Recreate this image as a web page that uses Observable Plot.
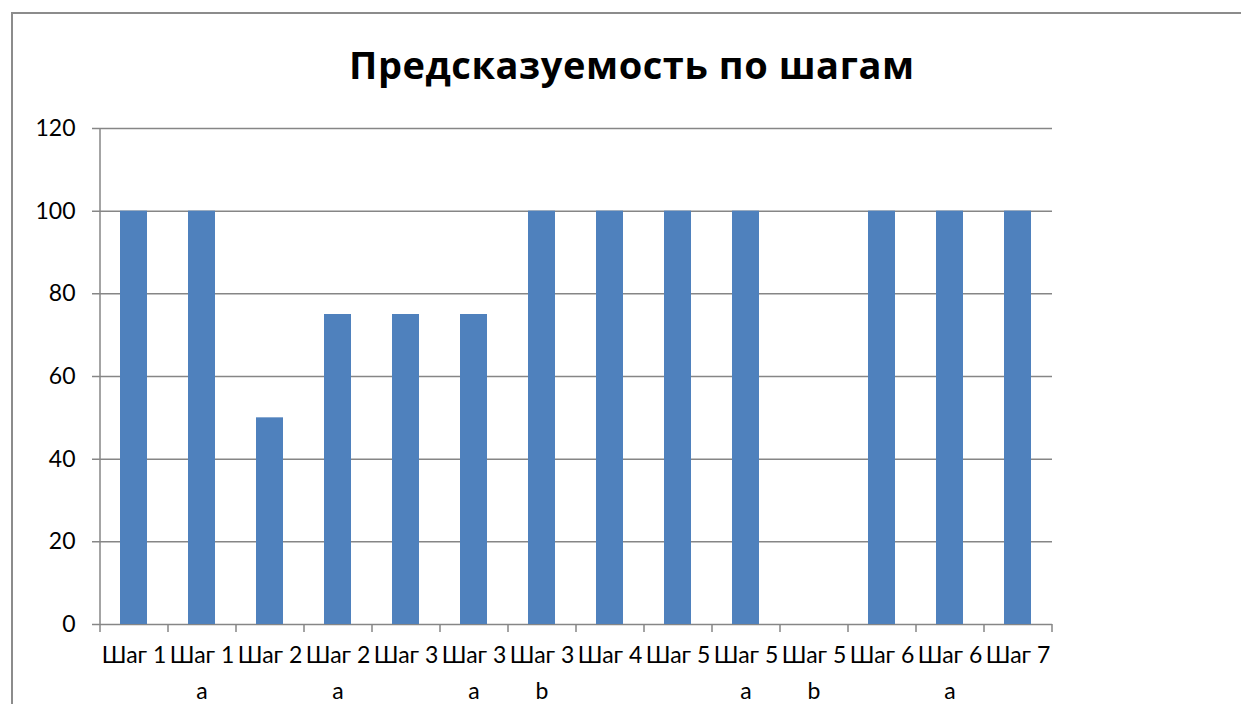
<!DOCTYPE html>
<html>
<head>
<meta charset="utf-8">
<script src="https://cdn.jsdelivr.net/npm/d3@7"></script>
<script src="https://cdn.jsdelivr.net/npm/@observablehq/plot@0.6"></script>
<style>
  html, body { margin: 0; padding: 0; background: #fff; }
  #wrap { position: relative; width: 1241px; height: 704px; overflow: hidden; }
  #frame { position: absolute; left: 11px; top: 12px; width: 1240px; height: 700px;
           border-left: 2px solid #8c8c8c; border-top: 2px solid #8c8c8c; box-sizing: border-box; }
  #chart { position: absolute; left: 0; top: 0; }
</style>
</head>
<body>
<div id="wrap"><div id="frame"></div><div id="chart"></div></div>
<script>
const title = "Предсказуемость по шагам";
const categories = ["Шаг 1", "Шаг 1 a", "Шаг 2", "Шаг 2 a", "Шаг 3", "Шаг 3 a", "Шаг 3 b",
                    "Шаг 4", "Шаг 5", "Шаг 5 a", "Шаг 5 b", "Шаг 6", "Шаг 6 a", "Шаг 7"];
const values = [100, 100, 50, 75, 75, 75, 100, 100, 100, 100, 0, 100, 100, 100];
const yTicks = [0, 20, 40, 60, 80, 100, 120];

const data = categories.map((c, i) => ({cat: c, value: values[i]}));
const gridColor = "#868686";

const labelLine1 = c => c.split(" ").slice(0, 2).join(" ");
const labelLine2 = c => c.split(" ").slice(2).join(" ");

const chart = Plot.plot({
  width: 1241,
  height: 704,
  marginLeft: 100,
  marginRight: 189,
  marginTop: 128,
  marginBottom: 80,
  style: {fontFamily: "Lato, 'Open Sans', sans-serif", background: "transparent"},
  x: {domain: categories, paddingInner: 0.6, paddingOuter: 0.3, axis: null},
  y: {domain: [0, 120], axis: null},
  marks: [
    Plot.ruleY(yTicks, {stroke: gridColor, strokeWidth: 1.5, insetLeft: -8}),
    Plot.barY(data, {x: "cat", y: "value", fill: "#4F81BD"}),
    Plot.text(yTicks, {y: d => d, frameAnchor: "left", dx: -25, textAnchor: "end", text: d => String(d), fontSize: 23, fill: "#000"}),
    Plot.text(categories, {x: d => d, frameAnchor: "bottom", dy: 38, text: labelLine1, fontSize: 23, fill: "#000"}),
    Plot.text(categories, {x: d => d, frameAnchor: "bottom", dy: 74, text: labelLine2, fontSize: 23, fill: "#000"}),
    Plot.text([title], {frameAnchor: "top", dx: 55, dy: -76, text: d => d, fontSize: 38, fontWeight: "bold", fill: "#000",
                        fontFamily: "'Open Sans', Lato, sans-serif", className: "chart-title"})
  ]
});

const svg = d3.select(chart);
const xs = chart.scale("x"), ys = chart.scale("y");
const y0 = ys.apply(0);
const yTop = ys.apply(120);
const bw = xs.step;
const x0 = xs.range[0];
const g = svg.append("g").attr("stroke", gridColor).attr("stroke-width", 1.5);
g.append("line").attr("x1", x0).attr("x2", x0).attr("y1", yTop).attr("y2", y0);
for (let i = 0; i <= categories.length; i++) {
  const x = x0 + i * bw;
  g.append("line").attr("x1", x).attr("x2", x).attr("y1", y0).attr("y2", y0 + 8);
}
document.getElementById("chart").appendChild(chart);
svg.selectAll(".chart-title text").attr("textLength", 565).attr("lengthAdjust", "spacing");
</script>
</body>
</html>
